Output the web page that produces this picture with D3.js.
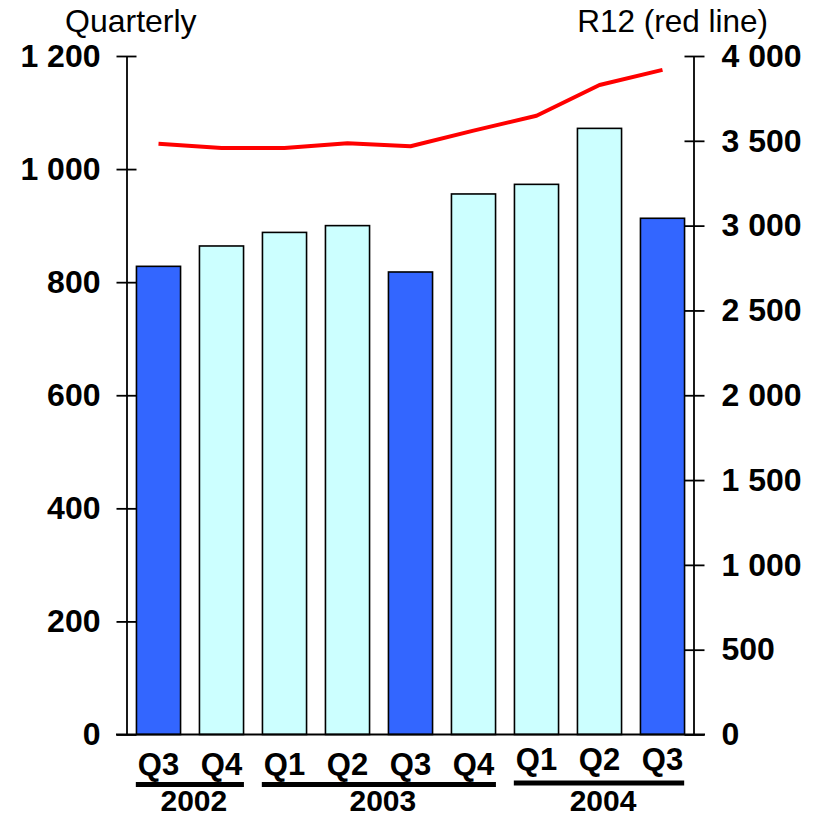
<!DOCTYPE html>
<html>
<head>
<meta charset="utf-8">
<script src="https://cdn.jsdelivr.net/npm/d3@7"></script>
<style>
  html, body { margin: 0; padding: 0; background: #fff; }
  svg { display: block; font-family: "Liberation Sans", Arial, sans-serif; }
</style>
</head>
<body>
<svg id="chart" width="818" height="818"></svg>
<script>
// ---- data ----
const quarters = ["Q3", "Q4", "Q1", "Q2", "Q3", "Q4", "Q1", "Q2", "Q3"];
const years    = ["2002", "2002", "2003", "2003", "2003", "2003", "2004", "2004", "2004"];
const quarterly = [828, 864, 888, 900, 818, 956, 973, 1072, 913];
const r12       = [3482, 3458, 3458, 3486, 3468, 3560, 3648, 3829, 3918];
const leftTicks  = [0, 200, 400, 600, 800, 1000, 1200];
const rightTicks = [0, 500, 1000, 1500, 2000, 2500, 3000, 3500, 4000];
const yearGroups = ["2002", "2003", "2004"];
const leftTitle = "Quarterly";
const rightTitle = "R12 (red line)";

// ---- layout ----
const svg = d3.select("#chart");
const xL = 126.5, xR = 693.5, yTop = 56, yBot = 734.5;
const idx = quarters.map((_, i) => i);

const x = d3.scaleBand().domain(idx).range([127, 694]).paddingInner(0.3).paddingOuter(0.15);
const yL = d3.scaleLinear().domain([0, 1200]).range([yBot, yTop]);
const yR = d3.scaleLinear().domain([0, 4000]).range([yBot, yTop]);

const loc = d3.formatLocale({ decimal: ".", thousands: "\u00a0", grouping: [3], currency: ["", ""] });
const fmt = loc.format(",d");

// bars
svg.append("g").selectAll("rect").data(idx).join("rect")
  .attr("x", i => x(i))
  .attr("y", i => yL(quarterly[i]))
  .attr("width", x.bandwidth())
  .attr("height", i => yL(0) - yL(quarterly[i]))
  .attr("fill", i => quarters[i] === "Q3" ? "#3366FF" : "#CCFFFF")
  .attr("stroke", "#000")
  .attr("stroke-width", 1.6);

// left axis
const axL = d3.axisLeft(yL).tickValues(leftTicks).tickFormat(fmt).tickSizeInner(10).tickSizeOuter(0).tickPadding(16);
const gL = svg.append("g").attr("transform", `translate(${xL},0)`).call(axL);
// right axis
const axR = d3.axisRight(yR).tickValues(rightTicks).tickFormat(fmt).tickSizeInner(11).tickSizeOuter(0).tickPadding(17);
const gR = svg.append("g").attr("transform", `translate(${xR},0)`).call(axR);

[gL, gR].forEach((g, k) => {
  g.select(".domain").attr("stroke", "#000").attr("stroke-width", 1.8);
  g.selectAll(".tick line").attr("stroke", "#000").attr("stroke-width", 1.8)
    .attr("x1", k === 0 ? 10 : -9);
  g.selectAll(".tick text")
    .attr("fill", "#000")
    .attr("font-size", 32)
    .attr("font-weight", "bold")
    .attr("font-family", "'Liberation Sans', Arial, sans-serif");
});

// baseline
svg.append("line")
  .attr("x1", 116).attr("x2", 705)
  .attr("y1", yL(0)).attr("y2", yL(0))
  .attr("stroke", "#000").attr("stroke-width", 1.8);

// R12 line
const line = d3.line().x((d, i) => x(i) + x.bandwidth() / 2).y(d => yR(d));
svg.append("path").datum(r12)
  .attr("d", line)
  .attr("fill", "none")
  .attr("stroke", "#FF0000")
  .attr("stroke-width", 4)
  .attr("stroke-linejoin", "round");

// quarter labels
const qLabels = svg.append("g").selectAll("text").data(idx).join("text")
  .attr("x", i => x(i) + x.bandwidth() / 2)
  .attr("y", i => years[i] === "2004" ? 770 : 775)
  .attr("text-anchor", "middle")
  .attr("font-size", 31)
  .attr("font-weight", "bold")
  .text(i => quarters[i]);
const qBoxes = qLabels.nodes().map(n => n.getBBox());

// year underlines + labels (span the quarter labels of each year)
yearGroups.forEach(yr => {
  const members = idx.filter(i => years[i] === yr);
  const first = members[0], last = members[members.length - 1];
  const x0 = qBoxes[first].x - 2, x1 = qBoxes[last].x + qBoxes[last].width + 1;
  const ly = yr === "2004" ? 783 : 784.5;
  svg.append("line")
    .attr("x1", x0).attr("x2", x1)
    .attr("y1", ly).attr("y2", ly)
    .attr("stroke", "#000").attr("stroke-width", 5);
  svg.append("text")
    .attr("x", (x0 + x1) / 2 + 4)
    .attr("y", 811)
    .attr("text-anchor", "middle")
    .attr("font-size", 30)
    .attr("font-weight", "bold")
    .text(yr);
});

// titles
svg.append("text").attr("x", 65).attr("y", 32)
  .attr("font-size", 32).text(leftTitle);
svg.append("text").attr("x", 768).attr("y", 32)
  .attr("text-anchor", "end")
  .attr("font-size", 31.5).text(rightTitle);
</script>
</body>
</html>
